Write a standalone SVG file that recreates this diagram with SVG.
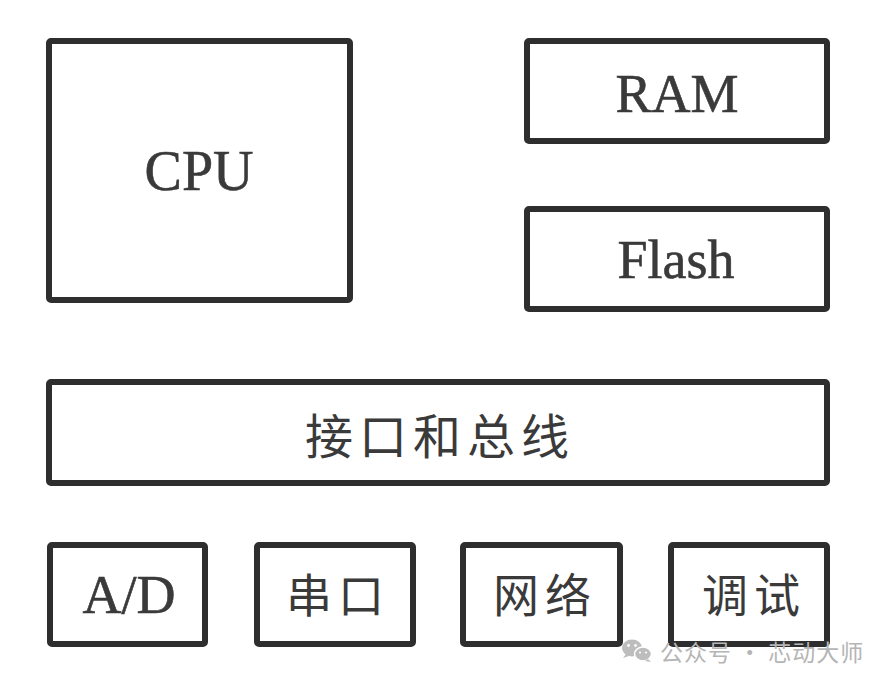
<svg xmlns="http://www.w3.org/2000/svg" width="888" height="689" viewBox="0 0 888 689">
<style>
.box{fill:#fff;stroke:#2e2e2e;stroke-width:6;stroke-linejoin:round}
.en{font-family:"Liberation Serif","Times New Roman",serif;fill:#3a3a3a;stroke:#3a3a3a;stroke-width:0.6;text-anchor:middle}
.cn{font-family:"Noto Sans CJK SC","Noto Sans",sans-serif;fill:#3a3a3a;text-anchor:middle}
.wm{font-family:"Noto Sans CJK SC","Noto Sans",sans-serif;fill:#b5b5b5}
</style>
<rect width="888" height="689" fill="#fff"/>
<g id="cpu"><rect class="box" x="49" y="41" width="301" height="259" rx="2"/><text class="en" x="199" y="190" font-size="56">CPU</text></g>
<g id="ram"><rect class="box" x="527" y="41" width="300" height="100" rx="2"/><text class="en" x="677" y="112" font-size="54">RAM</text></g>
<g id="flash"><rect class="box" x="527" y="209" width="300" height="100" rx="2"/><text class="en" x="676" y="278" font-size="54">Flash</text></g>
<g id="bus"><rect class="box" x="49" y="382" width="778" height="101" rx="2"/><text class="cn" x="440" y="454" font-size="48" letter-spacing="6">接口和总线</text></g>
<g id="ad"><rect class="box" x="50" y="545" width="155" height="99" rx="2"/><text class="en" x="129" y="613" font-size="54">A/D</text></g>
<g id="serial"><rect class="box" x="257" y="545" width="156" height="99" rx="2"/><text class="cn" x="338" y="612" font-size="46" letter-spacing="6">串口</text></g>
<g id="network"><rect class="box" x="463" y="545" width="157" height="99" rx="2"/><text class="cn" x="545" y="612" font-size="46" letter-spacing="6">网络</text></g>
<g id="debug"><rect class="box" x="671" y="545" width="156" height="99" rx="2"/><text class="cn" x="754" y="612" font-size="46" letter-spacing="6">调试</text></g>
<g id="connectors"></g>
<g id="watermark">
<ellipse cx="632" cy="648" rx="10" ry="8.5" fill="#bdbdbd"/>
<path d="M626 654 l-3 4 l6 -2 z" fill="#bdbdbd"/>
<ellipse cx="643" cy="654" rx="8.5" ry="7" fill="#bdbdbd" stroke="#fff" stroke-width="1.5"/>
<path d="M648 659 l3 3 l-6 -1 z" fill="#bdbdbd"/>
<circle cx="628.5" cy="645.5" r="1.4" fill="#fff"/><circle cx="635.5" cy="645.5" r="1.4" fill="#fff"/>
<circle cx="640" cy="652.5" r="1.1" fill="#fff"/><circle cx="646" cy="652.5" r="1.1" fill="#fff"/>
<text class="wm" x="660" y="661" font-size="23" letter-spacing="1">公众号 · 芯动大师</text>
</g>
</svg>
